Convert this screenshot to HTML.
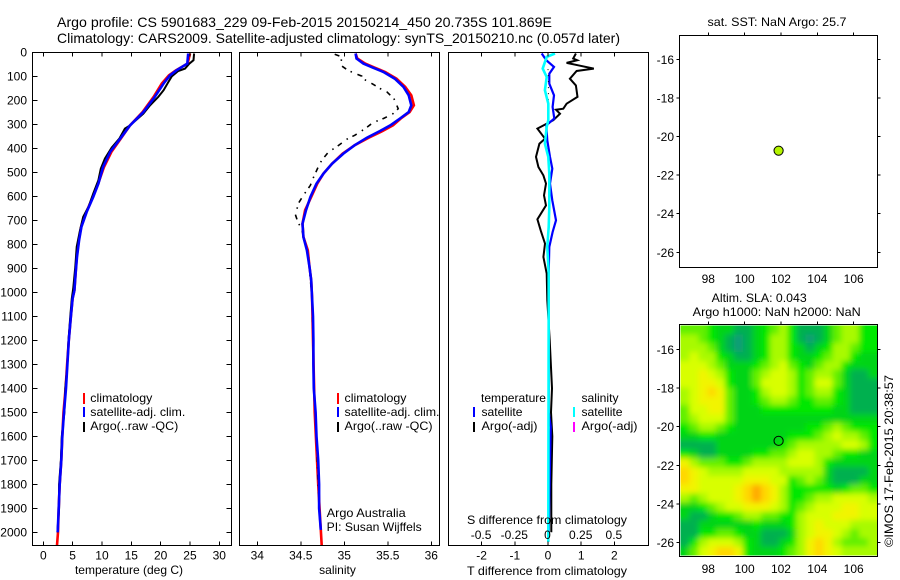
<!DOCTYPE html>
<html>
<head>
<meta charset="utf-8">
<title>Argo profile</title>
<style>
html,body{margin:0;padding:0;background:#fff;width:900px;height:580px;overflow:hidden}
svg{display:block}
text{font-family:"Liberation Sans",sans-serif;font-size:12px;fill:#000}
</style>
</head>
<body>
<svg id="chart" width="900" height="580" viewBox="0 0 900 580" xmlns="http://www.w3.org/2000/svg">
<defs>
<clipPath id="sla-clip"><rect x="680.5" y="325.5" width="196.5" height="230"/></clipPath>
<filter id="sla-blur" x="-10%" y="-10%" width="120%" height="120%"><feGaussianBlur stdDeviation="3"/></filter>
</defs>
<rect x="0" y="0" width="900" height="580" fill="#fff"/>
<text x="57" y="27" style="font-size:14px" textLength="495" lengthAdjust="spacingAndGlyphs">Argo profile: CS 5901683_229 09-Feb-2015 20150214_450 20.735S 101.869E</text>
<text x="57" y="43" style="font-size:14px" textLength="563" lengthAdjust="spacingAndGlyphs">Climatology: CARS2009. Satellite-adjusted climatology: synTS_20150210.nc (0.057d later)</text>
<g id="map-clip" clip-path="url(#sla-clip)"><g id="map-cells" filter="url(#sla-blur)"></g></g>
<g id="marks"></g>
<g id="frames"></g>
<g id="labels"></g>
<text x="129" y="574" text-anchor="middle">temperature (deg C)</text>
<text x="337.5" y="574" text-anchor="middle">salinity</text>
<text x="547" y="575" text-anchor="middle" textLength="160" lengthAdjust="spacingAndGlyphs">T difference from climatology</text>
<text x="547" y="524" text-anchor="middle" textLength="160" lengthAdjust="spacingAndGlyphs">S difference from climatology</text>
<text x="326.7" y="517" textLength="79" lengthAdjust="spacingAndGlyphs">Argo Australia</text>
<text x="326.7" y="531" textLength="95" lengthAdjust="spacingAndGlyphs">PI: Susan Wijffels</text>
<text x="707.5" y="26" textLength="139" lengthAdjust="spacingAndGlyphs">sat. SST: NaN Argo: 25.7</text>
<text x="711.7" y="302" textLength="95" lengthAdjust="spacingAndGlyphs">Altim. SLA: 0.043</text>
<text x="692.7" y="316" textLength="168" lengthAdjust="spacingAndGlyphs">Argo h1000: NaN h2000: NaN</text>
<text transform="translate(893,547) rotate(-90)" textLength="172" lengthAdjust="spacingAndGlyphs">©IMOS 17-Feb-2015 20:38:57</text>
</svg>
<script>
var depthTicks = [0,100,200,300,400,500,600,700,800,900,1000,1100,1200,1300,1400,1500,1600,1700,1800,1900,2000];
var tempTicks = [0,5,10,15,20,25,30];
var salTicks = [34,34.5,35,35.5,36];
var tDiffTicks = [-2,-1,0,1,2];
var sDiffTicks = [-0.5,-0.25,0,0.25,0.5];
var sDiffTickText = ['-0.5','-0.25','0','0.25','0.5'];
var lonTicks = [98,100,102,104,106];
var latTicks = [-16,-18,-20,-22,-24,-26];

var satTempDepth = [5,47,75,96,130,186,249,304,360,415,478,547,603,665,728,783,853,922,992,1026,1100,1200,1300,1400,1500,1600,1700,1800,1900,2000];
var satTemp = [24.7,24.55,22.7,21.6,20.5,19.0,17.05,14.8,13.1,11.4,10.2,9.4,8.5,7.4,6.5,6.1,5.75,5.5,5.3,5.0,4.7,4.35,4.1,3.87,3.53,3.24,3.07,2.8,2.62,2.45];
var climTempDepth = [5,47,75,96,130,186,249,304,360,415,478,547,603,665,728,783,853,922,992,1026,1100,1200,1300,1400,1500,1600,1700,1800,1900,2000,2054];
var climTemp = [25.0,24.6,22.6,21.4,20.2,18.8,16.9,14.8,13.2,11.6,10.35,9.35,8.45,7.35,6.45,6.05,5.7,5.5,5.3,5.0,4.7,4.35,4.05,3.8,3.45,3.24,3.07,2.8,2.62,2.5,2.33];
var argoTempDepth = [5,33,47,68,78,100,124,158,186,221,256,304,318,360,397,443,485,533,589,644,686,742,811,894,985,1026,1100,1200,1300,1400,1500,1600,1700,1800,1900,2000];
var argoTemp = [25.7,25.6,24.9,24.15,23.0,21.9,21.3,20.5,19.6,18.2,17.05,14.8,13.9,12.95,11.65,10.5,9.8,9.4,8.5,7.7,6.8,6.25,5.7,5.45,5.1,4.85,4.6,4.3,4.1,3.75,3.6,3.15,3.0,2.7,2.7,2.4];

var satSalDepth = [5,26,47,64,82,110,144,179,221,249,276,304,328,356,387,422,464,506,547,603,658,714,769,825,894,950,1026,1100,1200,1300,1400,1500,1600,1700,1800,1900,1990];
var satSal = [35.13,35.14,35.22,35.33,35.45,35.58,35.68,35.74,35.77,35.74,35.64,35.53,35.41,35.26,35.12,34.99,34.86,34.76,34.68,34.61,34.56,34.52,34.53,34.57,34.60,34.62,34.63,34.64,34.645,34.645,34.65,34.67,34.68,34.70,34.71,34.71,34.73];
var climSalDepth = [5,26,47,64,82,110,144,179,221,249,276,304,328,356,387,422,464,506,547,603,658,714,769,825,894,950,1026,1200,1500,1800,2054];
var climSal = [35.13,35.15,35.24,35.35,35.47,35.60,35.70,35.77,35.80,35.75,35.65,35.56,35.44,35.28,35.12,34.98,34.86,34.76,34.69,34.62,34.55,34.52,34.53,34.58,34.60,34.62,34.63,34.64,34.66,34.70,34.74];
var argoSalDepth = [8,19,54,72,85,99,107,131,151,165,193,235,256,276,293,318,346,362,394,415,450,478,526,554,596,631,679,711,735,797,853,950,1026,1200,1400,1600,1800,1960];
var argoSal = [34.89,34.97,34.96,35.03,35.10,35.20,35.20,35.32,35.41,35.49,35.57,35.62,35.56,35.45,35.33,35.24,35.12,35.03,34.91,34.82,34.74,34.70,34.64,34.61,34.53,34.47,34.44,34.47,34.51,34.55,34.59,34.61,34.63,34.64,34.65,34.68,34.70,34.72];

var argoTDiffDepth = [5,26,33,44,54,68,78,110,138,186,214,235,239,256,283,318,360,381,436,478,513,547,596,638,696,742,797,853,922,1033,1200,1400,1500,1600,1800,2000];
var argoTDiff = [0.84,0.76,0.88,0.56,0.91,1.38,0.86,0.66,0.84,0.89,0.56,0.46,0.24,0.36,0.16,-0.32,-0.09,-0.26,-0.36,-0.29,-0.14,-0.06,-0.12,-0.06,-0.32,-0.22,-0.09,-0.14,-0.04,-0.02,0.05,0.12,0.09,0.13,0.1,0.1];
var satTDiffDepth = [5,33,61,89,131,179,228,276,304,367,436,485,547,617,700,749,811,922,1033,1300,1500,1560,2000];
var satTDiff = [-0.19,-0.05,0.18,0.04,0.04,0.18,0.14,0.19,-0.05,-0.02,0.06,0.13,0.06,0.13,0.24,0.14,0.04,0.02,0.02,0.02,0.02,0.08,0.02];
var satSDiffDepth = [5,19,68,103,158,214,283,311,381,436,506,644,728,811,922,1033,2040];
var satSDiff = [0.053,-0.01,-0.04,-0.01,-0.023,0.002,0.002,-0.01,-0.023,0.002,0.01,0.01,0.005,-0.005,0.005,0.005,0.002];
var argoSDiffDepth = [70,110,150,190,230];
var argoSDiff = [0.0,0.003,0.003,0.003,0.003];

var argoLon = [101.869];
var argoLat = [-20.735];
var slaLevels = ['#0c9c78','#00b050','#00d418','#00e800','#62f000','#a8fa00','#d8ff00','#f2f400','#ffd800','#ffa800'];
var slaGrid = [
[4,4,4,3,2,2,1,1,2,3,4,5,3,1,1,1,2,4,5,5,3,3],
[5,5,4,3,2,1,0,1,2,3,5,5,3,1,0,1,2,4,5,5,3,3],
[5,5,5,4,2,1,0,1,2,3,5,5,3,2,1,2,3,5,5,4,3,3],
[5,6,5,5,3,2,1,1,2,3,5,5,3,2,2,3,4,5,5,3,2,2],
[6,6,6,5,4,2,2,2,3,4,5,6,4,3,2,4,5,5,3,2,2,2],
[6,6,7,6,5,3,2,2,4,5,6,6,5,3,4,5,5,4,2,1,1,2],
[6,6,7,7,6,3,2,2,4,6,6,6,5,3,4,6,6,4,2,1,1,1],
[5,6,7,8,7,4,2,2,3,5,6,6,5,3,4,5,5,3,2,1,1,1],
[5,6,7,7,7,4,2,2,3,4,5,5,4,3,3,4,4,3,2,1,1,1],
[4,6,6,7,7,4,2,2,2,3,3,3,3,3,3,3,3,2,2,1,1,1],
[4,5,6,6,6,4,2,2,2,2,2,2,2,2,2,2,2,2,2,2,2,2],
[3,4,5,5,4,3,2,2,2,2,2,2,2,2,3,3,4,5,4,3,3,3],
[2,2,3,3,2,2,2,2,2,2,2,2,3,3,3,4,5,6,5,5,4,3],
[1,1,1,1,2,2,2,2,2,2,2,3,4,5,5,5,5,5,6,6,5,3],
[3,2,1,1,2,2,2,2,3,3,4,4,5,6,6,5,5,4,3,3,2,2],
[7,5,4,4,4,3,3,4,5,5,5,5,6,6,6,5,3,2,2,2,2,2],
[8,7,6,5,5,5,5,6,6,6,6,5,5,5,5,5,2,1,1,1,1,2],
[8,7,6,6,6,6,6,7,7,7,6,6,3,4,5,4,2,1,1,1,2,2],
[7,7,6,6,6,6,7,8,9,8,7,5,3,3,3,3,3,2,3,4,4,3],
[5,4,5,6,6,6,7,8,9,8,7,5,3,3,4,5,5,6,6,6,6,5],
[2,2,3,4,5,6,6,7,7,7,6,5,3,4,5,6,6,6,7,7,6,6],
[2,1,1,2,3,3,4,5,5,4,4,3,3,5,6,6,6,7,7,7,6,6],
[1,1,2,2,2,2,2,2,3,2,2,2,3,5,6,7,6,6,6,5,5,5],
[1,1,3,3,4,4,3,2,2,1,1,1,2,5,6,7,7,6,5,4,5,5],
[1,3,5,6,6,6,5,3,2,1,1,2,3,5,7,8,7,5,4,4,4,5],
[2,4,6,7,8,8,7,3,2,2,2,3,4,5,7,8,7,6,5,5,5,5]
];

var NS = 'http://www.w3.org/2000/svg';
var marks = document.getElementById('marks');
var frames = document.getElementById('frames');
var labels = document.getElementById('labels');
var mapCells = document.getElementById('map-cells');

function yDepth(d){ return 52.3 + 0.24 * d; }
function xTemp(t){ return 43.3 + 5.867 * t; }
function xSal(s){ return 257.3 + 87 * (s - 34); }
function xTDiff(t){ return 548 + 33.2 * t; }
function xSDiff(s){ return 548 + 132.8 * s; }
function xLon(l){ return 708.3 + 18.17 * (l - 98); }
function yLatTop(l){ return 59.3 + 19.3 * (-16 - l); }
function yLatMap(l){ return 349.3 + 19.33 * (-16 - l); }

function line(parent, name, x1, y1, x2, y2, color, width){
  var el = document.createElementNS(NS, 'line');
  
  
  el.setAttribute('x1', x1);
  el.setAttribute('y1', y1);
  el.setAttribute('x2', x2);
  el.setAttribute('y2', y2);
  el.setAttribute('stroke', color || '#000');
  el.setAttribute('stroke-width', width || 1);
  el.setAttribute('shape-rendering', 'crispEdges');
  parent.appendChild(el);
}
function label(name, x, y, str, anchor, len){
  var el = document.createElementNS(NS, 'text');
  
  
  el.setAttribute('x', x);
  el.setAttribute('y', y);
  el.setAttribute('text-anchor', anchor || 'middle');
  if (len) {
    el.setAttribute('textLength', len);
    el.setAttribute('lengthAdjust', 'spacingAndGlyphs');
  }
  el.textContent = str;
  labels.appendChild(el);
}
function profile(name, xs, ds, xf, color, width, dash){
  var pts = [];
  for (var i = 0; i < xs.length; i++) pts.push(xf(xs[i]).toFixed(1) + ',' + yDepth(ds[i]).toFixed(1));
  var el = document.createElementNS(NS, 'polyline');
  
  
  el.setAttribute('points', pts.join(' '));
  el.setAttribute('fill', 'none');
  el.setAttribute('stroke', color);
  el.setAttribute('stroke-width', width);
  if (dash) el.setAttribute('stroke-dasharray', dash);
  marks.appendChild(el);
}
function frame(name, x0, y0, x1, y1){
  var el = document.createElementNS(NS, 'rect');
  
  
  el.setAttribute('x', x0);
  el.setAttribute('y', y0);
  el.setAttribute('width', x1 - x0);
  el.setAttribute('height', y1 - y0);
  el.setAttribute('fill', 'none');
  el.setAttribute('stroke', '#000');
  el.setAttribute('stroke-width', 1);
  el.setAttribute('shape-rendering', 'crispEdges');
  frames.appendChild(el);
}

/* heatmap: edge cells overshoot the clip so the smoothing does not fade at the border */
(function(){
  var rows = slaGrid.length, cols = slaGrid[0].length;
  var cw = (877 - 680.5) / cols, ch = (555.5 - 325.5) / rows;
  var pad = 12;
  for (var r = 0; r < rows; r++) for (var c = 0; c < cols; c++) {
    var x = 680.5 + c * cw, y = 325.5 + r * ch, w = cw + 0.5, h = ch + 0.5;
    if (c === 0) { x -= pad; w += pad; }
    if (r === 0) { y -= pad; h += pad; }
    if (c === cols - 1) w += pad;
    if (r === rows - 1) h += pad;
    var el = document.createElementNS(NS, 'rect');
    
    
    el.setAttribute('x', x.toFixed(2));
    el.setAttribute('y', y.toFixed(2));
    el.setAttribute('width', w.toFixed(2));
    el.setAttribute('height', h.toFixed(2));
    el.setAttribute('fill', slaLevels[slaGrid[r][c]]);
    el.setAttribute('shape-rendering', 'crispEdges');
    mapCells.appendChild(el);
  }
})();

/* profiles */
profile('temperature-climatology-line', climTemp, climTempDepth, xTemp, '#f00', 2.6);
profile('temperature-argo-line', argoTemp, argoTempDepth, xTemp, '#000', 2);
profile('temperature-satellite-line', satTemp, satTempDepth, xTemp, '#00f', 2.6);
profile('salinity-climatology-line', climSal, climSalDepth, xSal, '#f00', 2.6);
profile('salinity-argo-line', argoSal, argoSalDepth, xSal, '#000', 1.6, '5 5 1.5 6');
profile('salinity-satellite-line', satSal, satSalDepth, xSal, '#00f', 2.6);
profile('t-difference-argo-line', argoTDiff, argoTDiffDepth, xTDiff, '#000', 2);
profile('t-difference-satellite-line', satTDiff, satTDiffDepth, xTDiff, '#00f', 2.2);
profile('s-difference-argo-dots', argoSDiff, argoSDiffDepth, xSDiff, '#000', 1, '1 5');
profile('s-difference-satellite-line', satSDiff, satSDiffDepth, xSDiff, '#0ff', 2.6);

/* frames */
var top0 = 52.5, bot0 = 545.5;
frame('temperature-panel-frame', 32.5, top0, 231.5, bot0);
frame('salinity-panel-frame', 239.5, top0, 439.5, bot0);
frame('difference-panel-frame', 448.5, top0, 648.5, bot0);
frame('sst-map-frame', 679.5, 35.5, 877.5, 267.5);
frame('sla-map-frame', 679.5, 324.5, 877.5, 556.5);

/* temperature panel ticks */
depthTicks.forEach(function(d){
  var y = yDepth(d);
  line(frames, 'depth-tick-left', 32.5, y, 37.5, y);
  line(frames, 'depth-tick-right', 226.5, y, 231.5, y);
  label('depth-tick-label', 27, y + 4, String(d), 'end');
});
tempTicks.forEach(function(t){
  var x = xTemp(t);
  line(frames, 'temperature-tick-top', x, top0, x, top0 + 4);
  line(frames, 'temperature-tick-bottom', x, bot0 - 4, x, bot0);
  label('temperature-tick-label', x, 559.5, String(t));
});
salTicks.forEach(function(s){
  var x = xSal(s);
  line(frames, 'salinity-tick-top', x, top0, x, top0 + 4);
  line(frames, 'salinity-tick-bottom', x, bot0 - 4, x, bot0);
  label('salinity-tick-label', x, 559.5, String(s));
});
tDiffTicks.forEach(function(t){
  var x = xTDiff(t);
  line(frames, 't-difference-tick-top', x, top0, x, top0 + 4);
  line(frames, 't-difference-tick-bottom', x, bot0 - 4, x, bot0);
  label('t-difference-tick-label', x, 559.5, String(t));
});
sDiffTicks.forEach(function(s, i){
  label('s-difference-tick-label', xSDiff(s) - 0.5, 539, sDiffTickText[i]);
});

/* map ticks */
lonTicks.forEach(function(l){
  var x = xLon(l);
  line(frames, 'sst-lon-tick', x, 32.5, x, 35.5);
  line(frames, 'sla-lon-tick', x, 321.5, x, 324.5);
  label('sst-lon-tick-label', x, 283, String(l));
  label('sla-lon-tick-label', x, 573, String(l));
});
latTicks.forEach(function(l){
  var y1 = yLatTop(l), y2 = yLatMap(l);
  line(frames, 'sst-lat-tick-left', 676.5, y1, 679.5, y1);
  line(frames, 'sst-lat-tick-right', 877.5, y1, 880.5, y1);
  line(frames, 'sla-lat-tick-left', 676.5, y2, 679.5, y2);
  line(frames, 'sla-lat-tick-right', 877.5, y2, 880.5, y2);
  label('sst-lat-tick-label', 674, y1 + 4.5, String(l), 'end');
  label('sla-lat-tick-label', 674, y2 + 4.5, String(l), 'end');
});

/* location markers */
(function(){
  var c1 = document.createElementNS(NS, 'circle');
  
  
  c1.setAttribute('cx', xLon(argoLon[0]));
  c1.setAttribute('cy', yLatTop(argoLat[0]));
  c1.setAttribute('r', 4.6);
  c1.setAttribute('fill', '#b4f400');
  c1.setAttribute('stroke', '#000');
  frames.appendChild(c1);
  var c2 = document.createElementNS(NS, 'circle');
  
  
  c2.setAttribute('cx', xLon(argoLon[0]));
  c2.setAttribute('cy', yLatMap(argoLat[0]));
  c2.setAttribute('r', 4.6);
  c2.setAttribute('fill', 'none');
  c2.setAttribute('stroke', '#000');
  frames.appendChild(c2);
})();

/* legends */
function legendKey(name, x, y0, y1, color){
  line(frames, name, x, y0, x, y1, color, 2);
}
legendKey('temperature-legend-climatology-key', 84, 393, 404, '#f00');
legendKey('temperature-legend-satellite-key', 84, 407, 417, '#00f');
legendKey('temperature-legend-argo-key', 84, 422, 432, '#000');
label('temperature-legend-climatology', 90.3, 402, 'climatology', 'start', 62);
label('temperature-legend-satellite', 90.3, 416, 'satellite-adj. clim.', 'start', 95);
label('temperature-legend-argo', 90.3, 430, 'Argo(..raw -QC)', 'start', 88);
legendKey('salinity-legend-climatology-key', 338, 393, 404, '#f00');
legendKey('salinity-legend-satellite-key', 338, 407, 417, '#00f');
legendKey('salinity-legend-argo-key', 338, 422, 432, '#000');
label('salinity-legend-climatology', 344.5, 402, 'climatology', 'start', 62);
label('salinity-legend-satellite', 344.5, 416, 'satellite-adj. clim.', 'start', 95);
label('salinity-legend-argo', 344.5, 430, 'Argo(..raw -QC)', 'start', 88);
label('difference-legend-temperature-heading', 481, 402, 'temperature', 'start', 65);
legendKey('difference-legend-t-satellite-key', 474, 407, 417, '#00f');
legendKey('difference-legend-t-argo-key', 474, 422, 432, '#000');
label('difference-legend-t-satellite', 481.5, 416, 'satellite', 'start', 41);
label('difference-legend-t-argo', 481.5, 430, 'Argo(-adj)', 'start', 56);
label('difference-legend-salinity-heading', 581.5, 402, 'salinity', 'start', 37);
legendKey('difference-legend-s-satellite-key', 574, 407, 417, '#0ff');
legendKey('difference-legend-s-argo-key', 574, 422, 432, '#f0f');
label('difference-legend-s-satellite', 581.5, 416, 'satellite', 'start', 41);
label('difference-legend-s-argo', 581.5, 430, 'Argo(-adj)', 'start', 56);
</script>
</body>
</html>
